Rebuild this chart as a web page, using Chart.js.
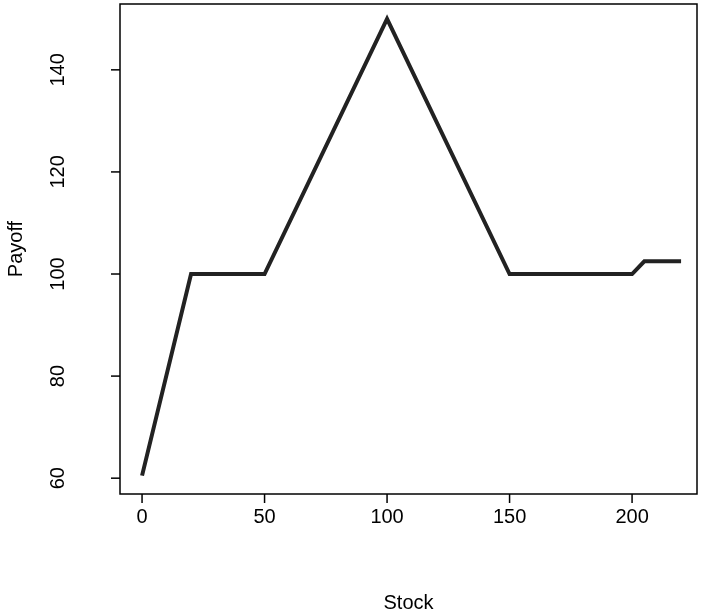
<!DOCTYPE html>
<html>
<head>
<meta charset="utf-8">
<script src="https://cdn.jsdelivr.net/npm/chart.js@4.4.0/dist/chart.umd.min.js"></script>
<style>
  html, body { margin: 0; padding: 0; background: #fff; }
  #wrap { width: 708px; height: 615px; }
</style>
</head>
<body>
<div id="wrap"><canvas id="c"></canvas></div>
<script>
// payoff curve
const stockValues = [0, 20, 50, 100, 150, 200, 205, 220];
const payoffValues = [60.5, 100, 100, 150, 100, 100, 102.5, 102.5];
const xTicks = [0, 50, 100, 150, 200];
const yTicks = [60, 80, 100, 120, 140];

const FONT = '20px "Liberation Sans", Arial, sans-serif';

// R-style box, tick marks and labels
const rAxes = {
  id: 'rAxes',
  afterDraw(chart) {
    const { ctx, chartArea: a, scales } = chart;
    ctx.save();
    ctx.strokeStyle = '#000';
    ctx.lineWidth = 1.5;
    ctx.strokeRect(a.left, a.top, a.right - a.left, a.bottom - a.top);
    ctx.fillStyle = '#000';
    ctx.font = FONT;

    ctx.textAlign = 'center';
    ctx.textBaseline = 'middle';
    xTicks.forEach(v => {
      const px = scales.x.getPixelForValue(v);
      ctx.beginPath();
      ctx.moveTo(px, a.bottom);
      ctx.lineTo(px, a.bottom + 9);
      ctx.stroke();
      ctx.fillText(String(v), px, a.bottom + 23);
    });

    yTicks.forEach(v => {
      const py = scales.y.getPixelForValue(v);
      ctx.beginPath();
      ctx.moveTo(a.left, py);
      ctx.lineTo(a.left - 9, py);
      ctx.stroke();
      ctx.save();
      ctx.translate(a.left - 62 + 0, py);
      ctx.rotate(-Math.PI / 2);
      ctx.fillText(String(v), 0, 0);
      ctx.restore();
    });

    ctx.fillText('Stock', (a.left + a.right) / 2, 603);
    ctx.save();
    ctx.translate(16, (a.top + a.bottom) / 2);
    ctx.rotate(-Math.PI / 2);
    ctx.fillText('Payoff', 0, 0);
    ctx.restore();
    ctx.restore();
  }
};

new Chart(document.getElementById('c'), {
  type: 'line',
  data: {
    datasets: [{
      data: stockValues.map((s, i) => ({ x: s, y: payoffValues[i] })),
      borderColor: '#222',
      borderWidth: 4,
      pointRadius: 0,
      fill: false,
      tension: 0
    }]
  },
  options: {
    responsive: true,
    maintainAspectRatio: false,
    animation: false,
    layout: { padding: { top: 4, right: 11, left: 0, bottom: 0 } },
    plugins: { legend: { display: false }, tooltip: { enabled: false } },
    scales: {
      x: {
        type: 'linear', min: -9, max: 226.5,
        grid: { display: false }, border: { display: false },
        ticks: { display: false },
        afterFit(s) { s.height = 121; }
      },
      y: {
        min: 56.9, max: 152.9,
        grid: { display: false }, border: { display: false },
        ticks: { display: false },
        afterFit(s) { s.width = 120; }
      }
    }
  },
  plugins: [rAxes]
});
</script>
</body>
</html>
